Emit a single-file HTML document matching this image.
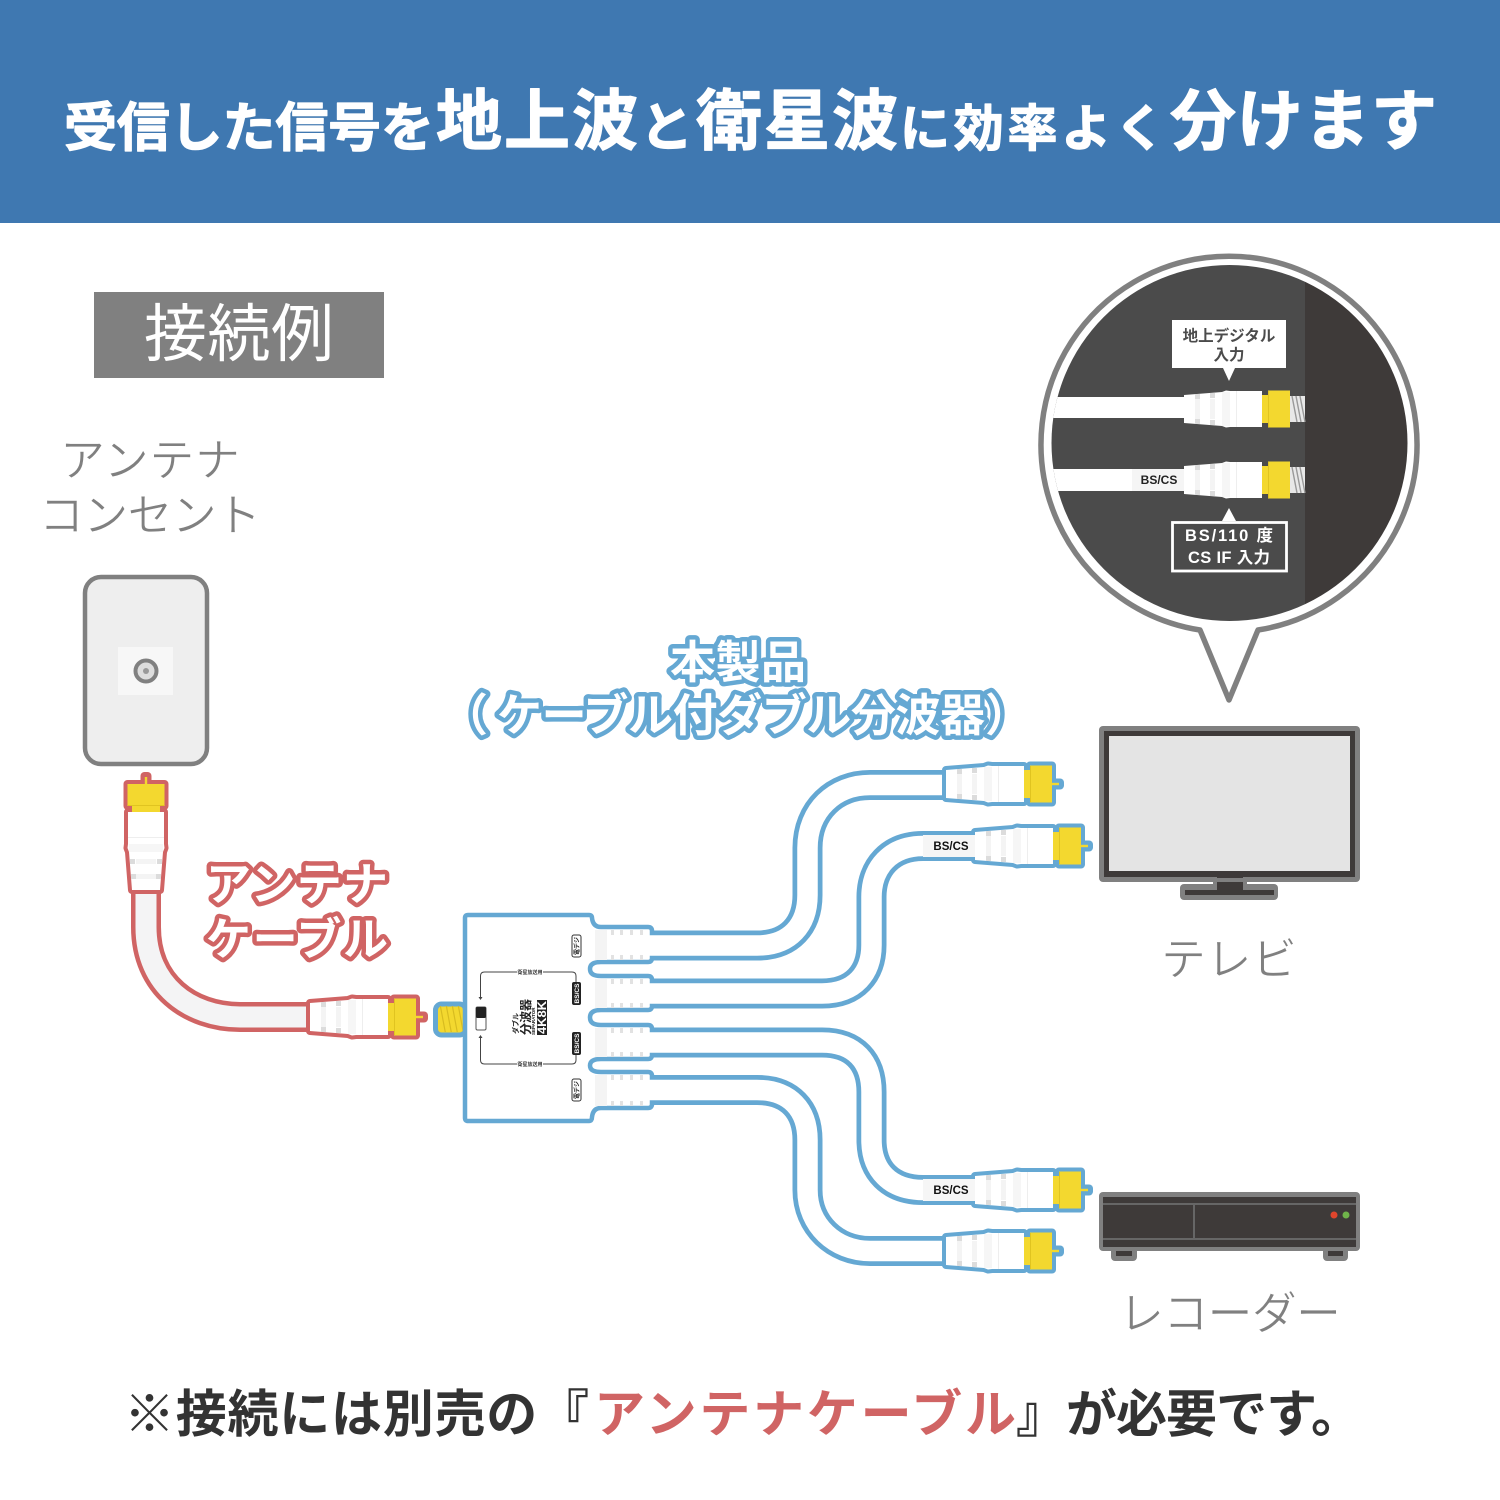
<!DOCTYPE html>
<html lang="ja"><head><meta charset="utf-8"><title>接続例</title>
<style>
html,body{margin:0;padding:0;background:#fff}
svg{display:block}
text{font-family:"Liberation Sans","Noto Sans CJK JP",sans-serif}
.j{font-family:"Noto Sans CJK JP",sans-serif}
.t{fill:#fff;font-weight:700;stroke:#fff;stroke-width:1.2;stroke-linejoin:round}
.g{fill:#808080;font-size:45px;stroke:#fff;stroke-width:.7}
.f{font-weight:700;font-size:51px;fill:#333}
.ob,.or{font-size:45px;font-weight:700;stroke-width:9;stroke-linejoin:round}
.ob{fill:#65a8d3;stroke:#65a8d3}
.or{fill:#d06464;stroke:#d06464}
.w{font-size:45px;font-weight:700;fill:#fff}
</style></head><body>
<svg xmlns="http://www.w3.org/2000/svg" width="1500" height="1500" viewBox="0 0 1500 1500">
<defs>
<g id="shape">
<polygon points="0,-14 38,-17 42,-18.5 46,-18 78,-18 78,18 46,18 42,18.5 38,17 0,14"/>
<polygon points="78,-14 84,-14 84,-18.5 106,-18.5 106,18.5 84,18.5 84,14 78,14"/>
<rect x="106" y="-1.5" width="8" height="3"/>
</g>
<g id="decor">
<polygon points="0,-14 38,-17 42,-18.5 46,-18 78,-18 78,18 46,18 42,18.5 38,17 0,14" fill="#fff"/>
<rect x="11" y="-10" width="5" height="20" fill="#f4f4f4"/><rect x="26" y="-10" width="5" height="20" fill="#f4f4f4"/>
<rect x="11" y="-15" width="5" height="5" fill="#dcdcdc"/><rect x="26" y="-16" width="5" height="5" fill="#dcdcdc"/>
<rect x="11" y="10" width="5" height="5" fill="#dcdcdc"/><rect x="26" y="11" width="5" height="5" fill="#dcdcdc"/>
<rect x="38" y="-17" width="8" height="34" fill="#f6f6f6"/><rect x="52" y="-18" width="1" height="36" fill="#eee"/>
<polygon points="78,-14 84,-14 84,-18.5 106,-18.5 106,18.5 84,18.5 84,14 78,14" fill="#f3d82f"/>
<rect x="84" y="-18" width="1" height="36" fill="#e0c420"/>
</g>
<g id="conn">
<g fill="currentColor" stroke="currentColor" stroke-width="8" stroke-linejoin="round" stroke-linecap="round"><use href="#shape"/></g>
<use href="#decor"/>
<rect x="106" y="-1.2" width="7" height="2.4" fill="#f3d82f"/>
</g>
<g id="bconn">
<use href="#decor"/>
<rect x="106" y="-13" width="15" height="26" fill="#e8e8e8"/>
<path d="M108,-13 l5,26 M112,-13 l5,26 M116,-13 l5,26" stroke="#999" stroke-width="1.4" fill="none"/>
</g>
<clipPath id="cl"><circle cx="1229.5" cy="443" r="178"/></clipPath>
<clipPath id="th"><rect x="437" y="1006" width="27" height="26"/></clipPath>
</defs>

<rect width="1500" height="223" fill="#3f78b1"/>
<g class="t j">
<text x="64" y="146" font-size="53" textLength="370" lengthAdjust="spacing">受信した信号を</text>
<text x="436" y="144" font-size="66" textLength="202" lengthAdjust="spacing">地上波</text>
<text x="640" y="146" font-size="53">と</text>
<text x="696" y="144" font-size="66" textLength="202" lengthAdjust="spacing">衛星波</text>
<text x="900" y="146" font-size="50" textLength="265" lengthAdjust="spacing">に効率よく</text>
<text x="1170" y="144" font-size="66" textLength="267" lengthAdjust="spacing">分けます</text>
</g>

<rect x="94" y="292" width="290" height="86" fill="#808080"/>
<text class="j" x="144" y="356" font-size="63" fill="#fff" textLength="190" lengthAdjust="spacing">接続例</text>

<text class="j g" x="60" y="476" textLength="180" lengthAdjust="spacing">アンテナ</text>
<text class="j g" x="39" y="531" textLength="222" lengthAdjust="spacing">コンセント</text>
<text class="j g" x="1161" y="975" textLength="136" lengthAdjust="spacing">テレビ</text>
<text class="j g" x="1119" y="1329" textLength="222" lengthAdjust="spacing">レコーダー</text>

<!-- wall plate -->
<rect x="85" y="577" width="122" height="187" rx="16" fill="#eee" stroke="#808080" stroke-width="4.5"/>
<rect x="118" y="647" width="55" height="48" fill="#f7f7f7"/>
<circle cx="146" cy="671" r="10.5" fill="#ddd" stroke="#808080" stroke-width="4"/>
<circle cx="146" cy="671" r="3" fill="#999"/>

<!-- red cable -->
<path d="M146,880 V927 C146,985 190,1017 240,1017 H320" fill="none" stroke="#d06464" stroke-width="30"/>
<path d="M146,880 V927 C146,985 190,1017 240,1017 H320" fill="none" stroke="#f4f4f5" stroke-width="21"/>
<use href="#conn" transform="translate(146,890) rotate(-90)" color="#d06464"/>
<use href="#conn" transform="translate(310,1017)" color="#d06464"/>
<g class="j">
<text class="or" x="206" y="900" textLength="182" lengthAdjust="spacing">アンテナ</text>
<text class="or" x="206" y="955" textLength="182" lengthAdjust="spacing">ケーブル</text>
<text class="w" x="206" y="900" textLength="182" lengthAdjust="spacing">アンテナ</text>
<text class="w" x="206" y="955" textLength="182" lengthAdjust="spacing">ケーブル</text>
</g>

<!-- product label -->
<g class="j">
<text class="ob" x="670" y="678" textLength="136" lengthAdjust="spacing">本製品</text>
<text class="ob" x="443" y="731">（</text>
<text class="ob" x="497" y="731" textLength="488" lengthAdjust="spacing">ケーブル付ダブル分波器</text>
<text class="ob" x="985" y="731">）</text>
<text class="w" x="670" y="678" textLength="136" lengthAdjust="spacing">本製品</text>
<text class="w" x="443" y="731">（</text>
<text class="w" x="497" y="731" textLength="488" lengthAdjust="spacing">ケーブル付ダブル分波器</text>
<text class="w" x="985" y="731">）</text>
</g>

<!-- thread -->
<rect x="435.5" y="1004" width="30" height="31" rx="6" fill="#f3d82f" stroke="#65a8d3" stroke-width="5"/>
<g clip-path="url(#th)" stroke="#d8bc20" stroke-width="1.2">
<path d="M440,1004 l6,32 M446,1004 l6,32 M452,1004 l6,32 M458,1004 l6,32"/>
</g>

<!-- blue cables -->
<g fill="none" stroke="#65a8d3" stroke-width="30">
<path id="c1" d="M640,945.5 H757 C790,945.5 807.5,925 807.5,895 V848 C807.5,810 835,785 870,785 H950"/>
<path id="c2" d="M640,993.5 H822 C855,993.5 871.5,973 871.5,945 V897 C871.5,868 890,846 923,846 H980"/>
<path id="c3" d="M640,1042.5 H822 C855,1042.5 871.5,1062 871.5,1092 V1140 C871.5,1170 890,1190 923,1190 H980"/>
<path id="c4" d="M640,1090 H757 C790,1090 807.5,1110 807.5,1140 V1190 C807.5,1225 835,1251 870,1251 H950"/>
</g>

<!-- splitter body + ports -->
<path d="M468,915 H589 Q592,915 592,918 Q593,927 601,927 H648 Q652,927 652,931 V958 Q652,962 648,962 H601 Q590,962 590,969 Q590,976 601,976 H648 Q652,976 652,980 V1006 Q652,1010 648,1010 H601 Q590,1010 590,1017.5 Q590,1025 601,1025 H648 Q652,1025 652,1029 V1055 Q652,1059 648,1059 H601 Q590,1059 590,1065.5 Q590,1072 601,1072 H648 Q652,1072 652,1076 V1104 Q652,1108 648,1108 H601 Q593,1108 592,1117 Q592,1121 589,1121 H468 Q465,1121 465,1118 V918 Q465,915 468,915 Z" fill="#fff" stroke="#65a8d3" stroke-width="4.5" stroke-linejoin="round"/>
<g fill="none" stroke="#fff" stroke-width="20.5">
<use href="#c1"/><use href="#c2"/><use href="#c3"/><use href="#c4"/>
</g>
<g fill="#f4f4f4">
<rect x="595" y="930" width="12" height="30"/><rect x="595" y="979" width="12" height="29"/>
<rect x="595" y="1028" width="12" height="29"/><rect x="595" y="1075" width="12" height="31"/>
</g>
<g fill="#e2e2e2">
<path d="M611,930h3v5h-3zM620,930h3v5h-3zM630,930h3v5h-3zM640,930h3v5h-3zM611,955h3v5h-3zM620,955h3v5h-3zM630,955h3v5h-3zM640,955h3v5h-3z"/>
<path d="M611,979h3v5h-3zM620,979h3v5h-3zM630,979h3v5h-3zM640,979h3v5h-3zM611,1003h3v5h-3zM620,1003h3v5h-3zM630,1003h3v5h-3zM640,1003h3v5h-3z"/>
<path d="M611,1028h3v5h-3zM620,1028h3v5h-3zM630,1028h3v5h-3zM640,1028h3v5h-3zM611,1052h3v5h-3zM620,1052h3v5h-3zM630,1052h3v5h-3zM640,1052h3v5h-3z"/>
<path d="M611,1075h3v5h-3zM620,1075h3v5h-3zM630,1075h3v5h-3zM640,1075h3v5h-3zM611,1101h3v5h-3zM620,1101h3v5h-3zM630,1101h3v5h-3zM640,1101h3v5h-3z"/>
</g>
<!-- splitter printing -->
<rect x="476" y="1007" width="10" height="23" rx="1.5" fill="#fff" stroke="#555" stroke-width="1"/>
<rect x="476" y="1007" width="10" height="11" rx="1.5" fill="#222"/>
<path d="M480.5,999 V976 q0,-4 4,-4 H517 M543,972 H572 q4,0 4,4 V983" fill="none" stroke="#444" stroke-width="1"/>
<path d="M480.5,1036 V1060 q0,4 4,4 H517 M543,1064 H572 q4,0 4,-4 V1053" fill="none" stroke="#444" stroke-width="1"/>
<path d="M478.5,997 L480.5,1000 L482.5,997 Z M478.5,1038 L480.5,1035 L482.5,1038 Z" fill="#444"/>
<g class="j" fill="#333" text-anchor="middle" font-size="5" font-weight="700">
<text x="530" y="974">衛星放送用</text><text x="530" y="1066">衛星放送用</text>
</g>
<rect x="572" y="982" width="9" height="23" rx="2" fill="#222"/>
<rect x="572" y="1032" width="9" height="23" rx="2" fill="#222"/>
<text transform="translate(579,993.5) rotate(-90)" font-size="6.5" font-weight="700" fill="#fff" text-anchor="middle">BS/CS</text>
<text transform="translate(579,1043.5) rotate(-90)" font-size="6.5" font-weight="700" fill="#fff" text-anchor="middle">BS/CS</text>
<rect x="572" y="935" width="9" height="22" rx="2" fill="#fff" stroke="#333" stroke-width="1"/>
<rect x="572" y="1079" width="9" height="22" rx="2" fill="#fff" stroke="#333" stroke-width="1"/>
<text class="j" transform="translate(579,955) rotate(-90)" font-size="6" font-weight="700" fill="#222">電デジ</text>
<text class="j" transform="translate(579,1099) rotate(-90)" font-size="6" font-weight="700" fill="#222">電デジ</text>
<text class="j" transform="translate(518,1034) rotate(-90)" font-size="7" font-weight="700" fill="#222">ダブル</text>
<text class="j" transform="translate(530,1035) rotate(-90)" font-size="12" font-weight="700" fill="#222">分波器</text>
<text transform="translate(535,1035) rotate(-90)" font-size="4.5" font-weight="700" fill="#222">SEPARATOR</text>
<rect x="537" y="1000" width="10" height="35" fill="#222"/>
<text transform="translate(546,1034) rotate(-90)" font-size="12" font-weight="700" fill="#fff" textLength="33" lengthAdjust="spacingAndGlyphs">4K8K</text>

<!-- blue connectors -->
<use href="#conn" transform="translate(946,784)" color="#65a8d3"/>
<use href="#conn" transform="translate(975,846)" color="#65a8d3"/>
<use href="#conn" transform="translate(975,1190)" color="#65a8d3"/>
<use href="#conn" transform="translate(946,1251)" color="#65a8d3"/>
<rect x="923" y="835" width="52" height="22" fill="#f6f6f6"/>
<rect x="923" y="1179" width="52" height="22" fill="#f6f6f6"/>
<text x="951" y="850" font-size="11.5" font-weight="700" fill="#111" text-anchor="middle">BS/CS</text>
<text x="951" y="1194" font-size="11.5" font-weight="700" fill="#111" text-anchor="middle">BS/CS</text>

<!-- TV -->
<rect x="1180" y="884" width="98" height="16" rx="4" fill="#808080"/>
<rect x="1185" y="890" width="89" height="5" fill="#3e3a39"/>
<rect x="1213" y="876" width="34" height="14" fill="#808080"/>
<rect x="1217" y="876" width="26" height="15" fill="#3e3a39"/>
<rect x="1099" y="726" width="261" height="156" rx="4" fill="#808080"/>
<rect x="1104" y="731" width="251" height="146" fill="#3e3a39"/>
<rect x="1109" y="736" width="241" height="135" fill="#e4e4e4"/>
<rect x="1217" y="872" width="26" height="6" fill="#3e3a39"/>

<!-- recorder -->
<rect x="1111" y="1240" width="26" height="21" rx="4" fill="#808080"/><rect x="1323" y="1240" width="25" height="21" rx="4" fill="#808080"/>
<rect x="1116" y="1245" width="16" height="11" fill="#3e3a39"/><rect x="1328" y="1245" width="15" height="11" fill="#3e3a39"/>
<rect x="1099" y="1192" width="261" height="59" rx="4" fill="#808080"/>
<rect x="1103" y="1197" width="253" height="50" fill="#3e3a39"/>
<rect x="1103" y="1203" width="253" height="2" fill="#666"/><rect x="1103" y="1238" width="253" height="2" fill="#666"/>
<rect x="1193" y="1205" width="2" height="33" fill="#666"/>
<circle cx="1334" cy="1215" r="3.5" fill="#e0452c"/><circle cx="1346" cy="1215" r="3.5" fill="#6fb44a"/>

<!-- bubble -->
<path d="M1200,630 A188,188 0 1 1 1258,630 L1229,700 Z" fill="#fff" stroke="#808080" stroke-width="5.5" stroke-linejoin="round"/>
<g clip-path="url(#cl)">
<rect x="1050" y="260" width="255" height="370" fill="#4b4b4b"/>
<rect x="1305" y="260" width="110" height="370" fill="#3e3a39"/>
<rect x="1050" y="397" width="140" height="21" fill="#fff"/>
<rect x="1050" y="469" width="90" height="22" fill="#fff"/>
</g>
<use href="#bconn" transform="translate(1184,409)"/>
<use href="#bconn" transform="translate(1184,480)"/>
<rect x="1132" y="469" width="52" height="22" fill="#f5f5f5"/>
<text x="1159" y="484" font-size="12" font-weight="700" fill="#222" text-anchor="middle">BS/CS</text>
<rect x="1172" y="320" width="114" height="48" fill="#fff"/>
<polygon points="1223,368 1235,368 1229,381" fill="#fff"/>
<g class="j" font-size="15.5" font-weight="700" fill="#4b4b4b" text-anchor="middle">
<text x="1229" y="341">地上デジタル</text><text x="1229" y="360">入力</text>
</g>
<rect x="1172.5" y="522.5" width="114" height="48.5" fill="none" stroke="#fff" stroke-width="2.8"/>
<polygon points="1222,521 1236,521 1229,508" fill="#fff"/>
<g font-size="16.5" font-weight="700" fill="#fff">
<text x="1185" y="541" textLength="88" lengthAdjust="spacing">BS/110 度</text>
<text x="1188" y="563" textLength="82" lengthAdjust="spacing">CS IF 入力</text>
</g>

<!-- footer -->
<g class="j">
<text class="f" x="124" y="1432" textLength="465" lengthAdjust="spacing">※接続には別売の『</text>
<text class="f" x="594" y="1432" textLength="422" lengthAdjust="spacing" style="fill:#d06464">アンテナケーブル</text>
<text class="f" x="1016" y="1432" textLength="346" lengthAdjust="spacing">』が必要です。</text>
</g>
</svg>
</body></html>
